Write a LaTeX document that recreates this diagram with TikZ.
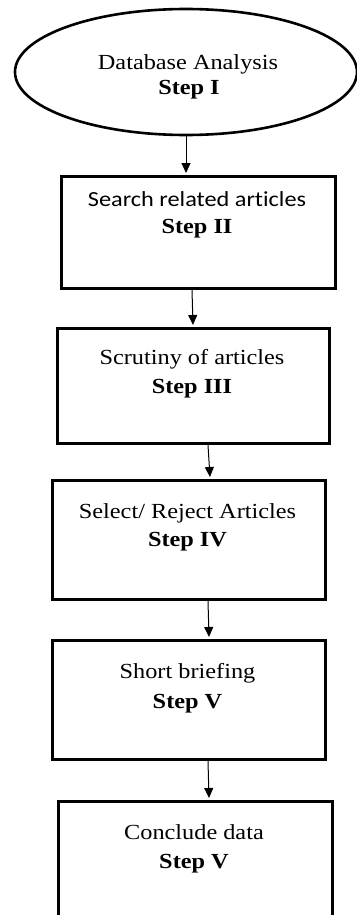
\documentclass[tikz,border=0pt]{standalone}
\usepackage{fontspec}
\setmainfont{Liberation Serif}[FakeStretch=1.13]
\newfontfamily\calfont{Carlito}[FakeStretch=1.13,Ligatures={NoCommon,NoDiscretionary}]
\usetikzlibrary{shapes.geometric,arrows.meta}

\begin{document}
\begin{tikzpicture}[x=1pt,y=-1pt,
  stepbox/.style={draw, line width=3.2pt, rectangle, inner sep=0pt, anchor=north west},
  startoval/.style={draw, line width=2.6pt, ellipse, inner sep=0pt},
  txt/.style={anchor=base, inner sep=0pt, font=\fontsize{21.5}{26}\selectfont},
  arr/.style={line width=1pt, -{Triangle[length=10pt,width=9pt]}}]
  \useasboundingbox (0,0) rectangle (356,915);

  % start oval
  \node[startoval, minimum width=342pt, minimum height=126pt] (e1) at (186,72) {};
  \node[txt] (e1a) at (188,70) {Database Analysis};
  \node[txt] (e1b) at (189,95) {\bfseries Step I};

  % process boxes (top-left corner, width, height)
  \node[stepbox, minimum width=274pt, minimum height=112pt] (b2) at (60,175) {};
  \node[txt] (b2a) at (197,206) {\calfont Search related articles};
  \node[txt] (b2b) at (197,233) {\bfseries Step II};

  \node[stepbox, minimum width=272pt, minimum height=115pt] (b3) at (56,327) {};
  \node[txt] (b3a) at (192,364) {Scrutiny of articles};
  \node[txt] (b3b) at (192,393) {\bfseries Step III};

  \node[stepbox, minimum width=273pt, minimum height=119pt] (b4) at (51,479) {};
  \node[txt] (b4a) at (187.5,518) {Select/ Reject Articles};
  \node[txt] (b4b) at (187.5,546) {\bfseries Step IV};

  \node[stepbox, minimum width=273pt, minimum height=119pt] (b5) at (51,639) {};
  \node[txt] (b5a) at (187.5,678) {Short briefing};
  \node[txt] (b5b) at (187.5,708) {\bfseries Step V};

  \node[stepbox, minimum width=274pt, minimum height=140pt] (b6) at (57,800) {};
  \node[txt] (b6a) at (194,839) {Conclude data};
  \node[txt] (b6b) at (194,868) {\bfseries Step V};

  % arrow end points on the top edges of the boxes
  \coordinate (p1) at (186,173);
  \coordinate (p2) at (193,325);
  \coordinate (p3) at (210,477);
  \coordinate (p4) at (209,637);
  \coordinate (p5) at (209,798);

  \draw[arr] (e1.south -| p1) -- (p1);
  \draw[arr] ([xshift=-1pt]b2.south -| p2) -- (p2);
  \draw[arr] ([xshift=-2pt]b3.south -| p3) -- (p3);
  \draw[arr] ([xshift=-1pt]b4.south -| p4) -- (p4);
  \draw[arr] ([xshift=-1pt]b5.south -| p5) -- (p5);
\end{tikzpicture}
\end{document}
